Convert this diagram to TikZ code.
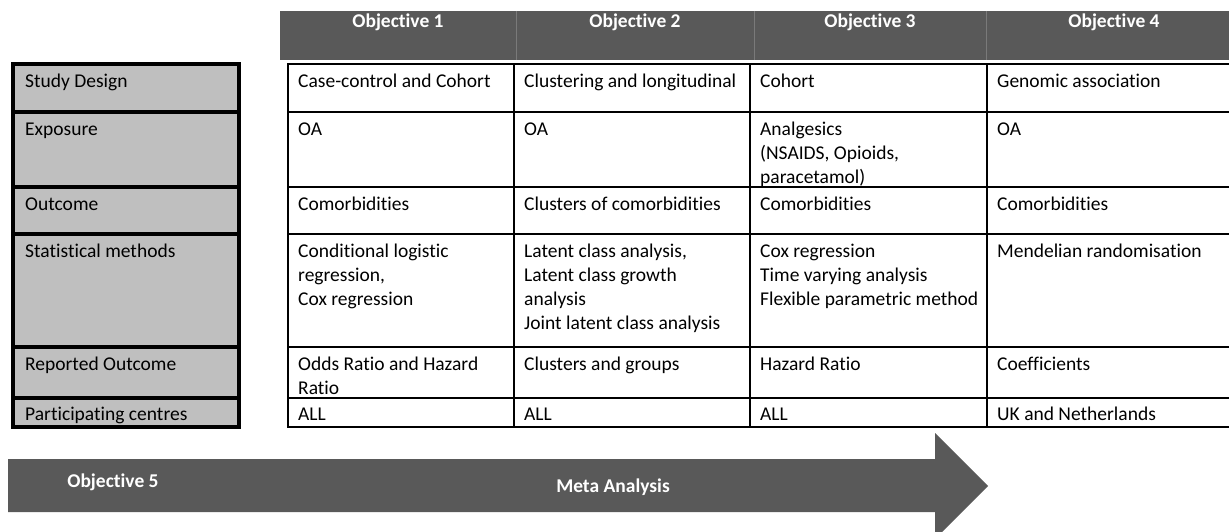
\documentclass[tikz,border=0pt]{standalone}
\usepackage{fontspec}
\setmainfont{Carlito}[Ligatures=NoCommon]
\definecolor{hdr}{HTML}{595959}
\definecolor{hdrline}{HTML}{7A7A7A}
\definecolor{lab}{HTML}{BFBFBF}
\tikzset{
  celltxt/.style={anchor=north west, inner sep=0pt, align=left, font=\fontsize{19.5}{24}\selectfont},
  hdrtxt/.style={anchor=base, inner sep=0pt, text=white, font=\fontsize{19.5}{24}\selectfont\bfseries},
  labcell/.style={draw=black, line width=3.2pt, fill=lab},
  tabline/.style={draw=black, line width=2.6pt},
}
\newcommand{\sx}{\vrule width 0pt height 17pt\relax}
\begin{document}
\begin{tikzpicture}[x=1pt,y=-1pt]
\useasboundingbox (0,0) rectangle (1229,532);
\clip (0,0) rectangle (1229,532);
% header bar
\fill[hdr] (280,11) rectangle (1245,60);
\foreach \xx in {516,754,986} \draw[hdrline, line width=0.8pt] (\xx,11) -- (\xx,60);
\node[hdrtxt] (h1) at (398,28) {Objective 1};
\node[hdrtxt] (h2) at (635,28) {Objective 2};
\node[hdrtxt] (h3) at (870,28) {Objective 3};
\node[hdrtxt] (h4) at (1114,28) {Objective 4};
% left label column
\foreach \ya/\yb in {64/112,112/187,187/234,234/347,347/398,398/427}
  \path[labcell] (13,\ya) rectangle (239,\yb);
% table grid
\draw[tabline] (1245,64) -- (288,64) -- (288,427) -- (1245,427);
\foreach \yy in {112,187,234,347,398} \draw[tabline] (288,\yy) -- (1245,\yy);
\foreach \xx in {514,750,987} \draw[tabline] (\xx,64) -- (\xx,427);
% labels
\node[celltxt] (l1) at (25,70) {\sx Study Design};
\node[celltxt] (l2) at (25,118) {\sx Exposure};
\node[celltxt] (l3) at (25,193) {\sx Outcome};
\node[celltxt] (l4) at (25,240) {\sx Statistical methods};
\node[celltxt] (l5) at (25,353) {\sx Reported Outcome};
\node[celltxt] (l6) at (25,403) {\sx Participating centres};
% row 1
\node[celltxt] (a1) at (298,70) {\sx Case-control and Cohort};
\node[celltxt] (b1) at (524,70) {\sx Clustering and longitudinal};
\node[celltxt] (c1) at (760,70) {\sx Cohort};
\node[celltxt] (d1) at (997,70) {\sx Genomic association};
% row 2
\node[celltxt] (a2) at (298,118) {\sx OA};
\node[celltxt] (b2) at (524,118) {\sx OA};
\node[celltxt] (c2) at (760,118) {\sx Analgesics\\(NSAIDS, Opioids,\\paracetamol)};
\node[celltxt] (d2) at (997,118) {\sx OA};
% row 3
\node[celltxt] (a3) at (298,193) {\sx Comorbidities};
\node[celltxt] (b3) at (524,193) {\sx Clusters of comorbidities};
\node[celltxt] (c3) at (760,193) {\sx Comorbidities};
\node[celltxt] (d3) at (997,193) {\sx Comorbidities};
% row 4
\node[celltxt] (a4) at (298,240) {\sx Conditional logistic\\regression,\\Cox regression};
\node[celltxt] (b4) at (524,240) {\sx Latent class analysis,\\Latent class growth\\analysis\\Joint latent class analysis};
\node[celltxt] (c4) at (760,240) {\sx Cox regression\\Time varying analysis\\Flexible parametric method};
\node[celltxt] (d4) at (997,240) {\sx Mendelian randomisation};
% row 5
\node[celltxt] (a5) at (298,353) {\sx Odds Ratio and Hazard\\Ratio};
\node[celltxt] (b5) at (524,353) {\sx Clusters and groups};
\node[celltxt] (c5) at (760,353) {\sx Hazard Ratio};
\node[celltxt] (d5) at (997,353) {\sx Coefficients};
% row 6
\node[celltxt] (a6) at (298,403) {\sx ALL};
\node[celltxt] (b6) at (524,403) {\sx ALL};
\node[celltxt] (c6) at (760,403) {\sx ALL};
\node[celltxt] (d6) at (997,403) {\sx UK and Netherlands};
% arrow
\fill[hdr] (8,459) -- (935,459) -- (935,433) -- (988,486) -- (935,539) -- (935,512) -- (8,512) -- cycle;
\node[hdrtxt] (o5) at (113,487) {Objective 5};
\node[hdrtxt] (ma) at (613,492) {Meta Analysis};
\end{tikzpicture}
\end{document}
